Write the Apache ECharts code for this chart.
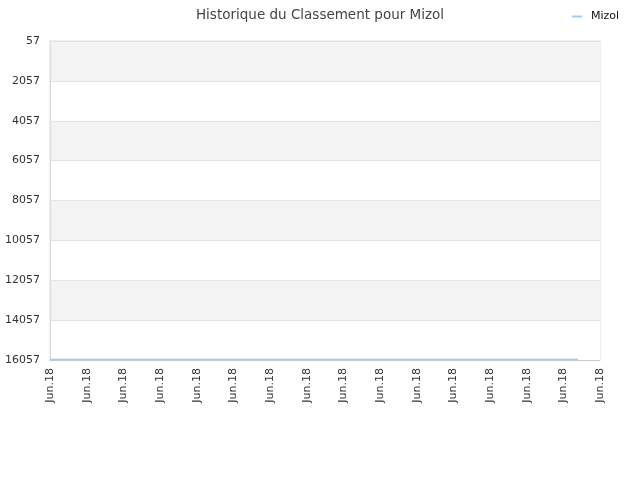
<!DOCTYPE html>
<html>
<head>
<meta charset="utf-8">
<script src="https://cdn.jsdelivr.net/npm/echarts@6/dist/echarts.min.js"></script>
<style>html,body{margin:0;padding:0;background:#fff}#c{width:640px;height:480px}</style>
</head>
<body>
<div id="c"></div>
<script>
var title = "Historique du Classement pour Mizol";
var seriesName = "Mizol";
var categories = [
"Jun.18","Jun.18","Jun.18","Jun.18","Jun.18","Jun.18","Jun.18","Jun.18","Jun.18","Jun.18",
"Jun.18","Jun.18","Jun.18","Jun.18","Jun.18","Jun.18","Jun.18","Jun.18","Jun.18","Jun.18",
"Jun.18","Jun.18","Jun.18","Jun.18","Jun.18","Jun.18","Jun.18","Jun.18","Jun.18","Jun.18",
"Jun.18","Jun.18","Jun.18","Jun.18","Jun.18","Jun.18","Jun.18","Jun.18","Jun.18","Jun.18",
"Jun.18","Jun.18","Jun.18","Jun.18","Jun.18","Jun.18","Jun.18","Jun.18","Jun.18","Jun.18",
"Jun.18","Jun.18","Jun.18","Jun.18","Jun.18","Jun.18","Jun.18","Jun.18","Jun.18","Jun.18",
"Jun.18","Jun.18","Jun.18","Jun.18","Jun.18","Jun.18","Jun.18","Jun.18","Jun.18","Jun.18",
"Jun.18","Jun.18","Jun.18","Jun.18","Jun.18","Jun.18"
];
var rankValues = [
16030,16030,16030,16030,16030,16030,16030,16030,16030,16030,
16030,16030,16030,16030,16030,16030,16030,16030,16030,16030,
16030,16030,16030,16030,16030,16030,16030,16030,16030,16030,
16030,16030,16030,16030,16030,16030,16030,16030,16030,16030,
16030,16030,16030,16030,16030,16030,16030,16030,16030,16030,
16030,16030,16030,16030,16030,16030,16030,16030,16030,16030,
16030,16030,16030,16030,16030,16030,16030,16030,16030,16030,
16030,16030,16030
];
var yMin = 57, yMax = 16057, yStep = 2000;

var chart = echarts.init(document.getElementById('c'));
chart.setOption({
  animation: false,
  backgroundColor: '#fff',
  title: {
    text: title, left: 'center', top: 3,
    textStyle: { fontFamily: 'DejaVu Sans', fontSize: 13.5, fontWeight: 'normal', color: '#444' }
  },
  legend: {
    data: [seriesName], right: 16, top: 6, itemWidth: 10, itemHeight: 2, itemGap: 5,
    icon: 'rect',
    textStyle: { fontFamily: 'DejaVu Sans', fontSize: 11, color: '#111', padding: [0, 0, 0, 4] }
  },
  grid: { left: 50, right: 40, top: 41, bottom: 120, show: true, borderColor: '#ddd', borderWidth: 1 },
  xAxis: {
    type: 'category', data: categories, boundaryGap: false,
    axisLine: { show: true, lineStyle: { color: '#ccc' } },
    axisTick: { show: false },
    splitLine: { show: false },
    axisLabel: {
      interval: 4, rotate: 90, color: '#333', fontFamily: 'DejaVu Sans', fontSize: 11, margin: 8,
      showMaxLabel: true
    }
  },
  yAxis: {
    type: 'value', inverse: true, min: yMin, max: yMax, interval: yStep,
    axisLine: { show: true, lineStyle: { color: '#ddd' } },
    axisTick: { show: false },
    axisLabel: { color: '#333', fontFamily: 'DejaVu Sans', fontSize: 11, margin: 10,
      formatter: function (v) { return String(v); } },
    splitLine: { show: true, lineStyle: { color: '#e3e3e3' } },
    splitArea: { show: true, areaStyle: { color: ['#f3f3f3', '#ffffff'] } }
  },
  series: [{
    name: seriesName, type: 'line', data: rankValues, showSymbol: false, symbol: 'none',
    lineStyle: { color: '#a6cbf0', width: 1.5 }, itemStyle: { color: '#a6cbf0' }
  }]
});
</script>
</body>
</html>
